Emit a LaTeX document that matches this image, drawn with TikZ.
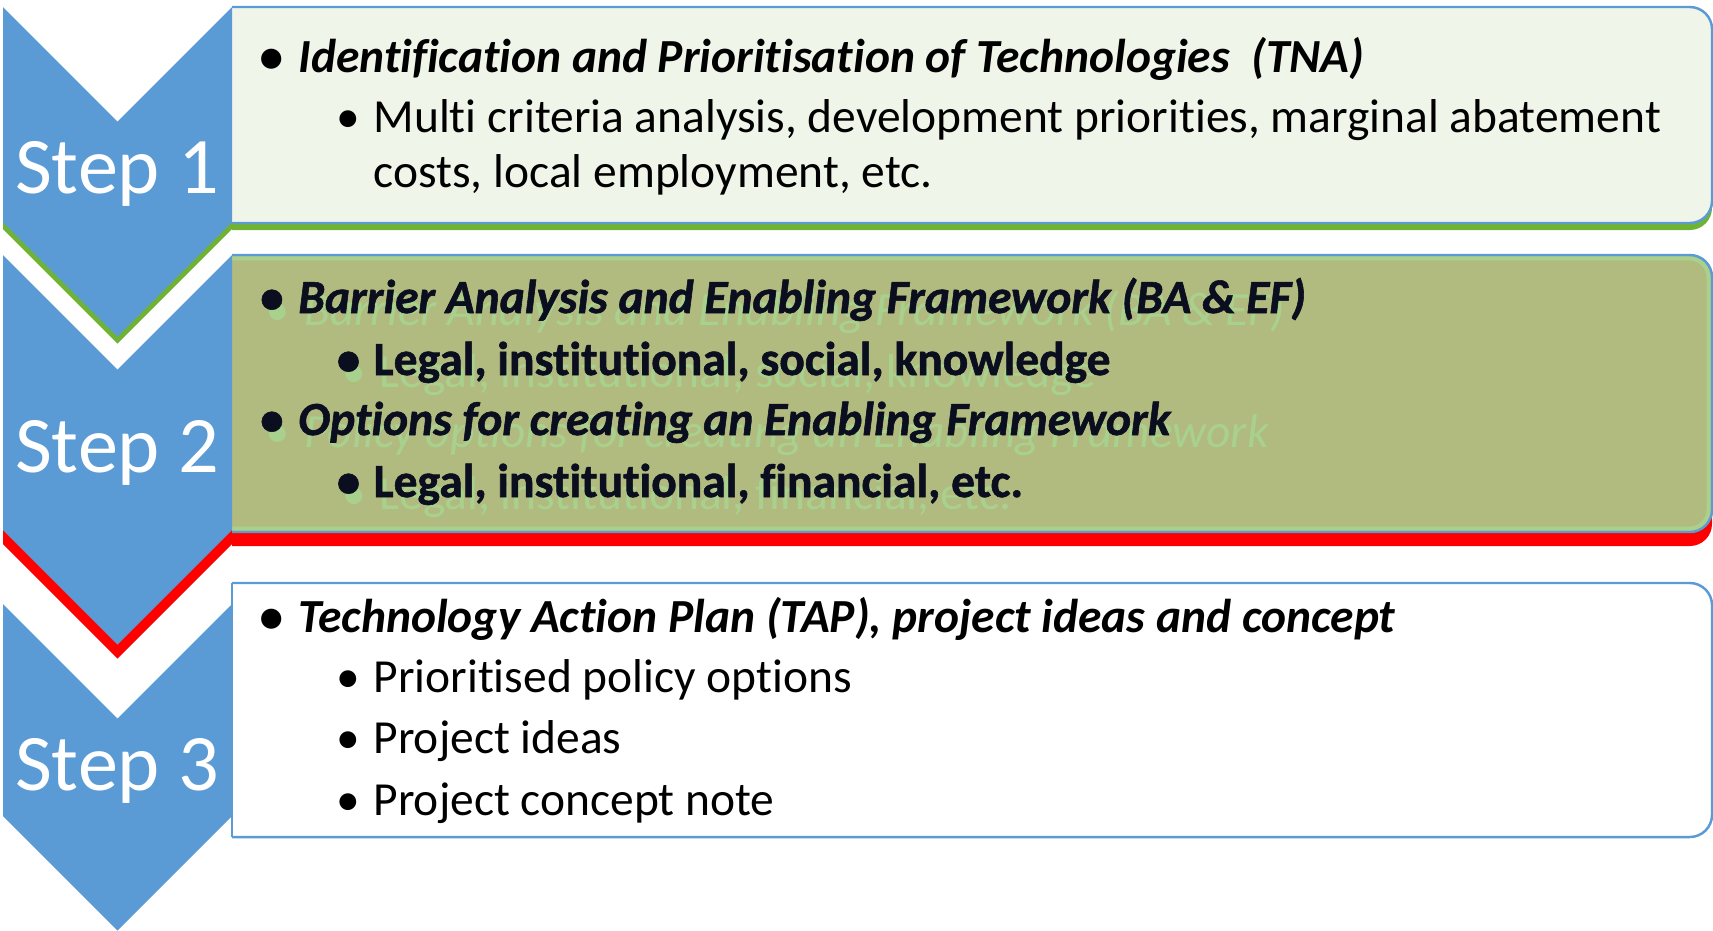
\documentclass[tikz,border=0pt]{standalone}
\usepackage{fontspec}
\setmainfont{Carlito}[Ligatures=NoCommon]
\newfontfamily\glowfont{Carlito}[Ligatures=NoCommon, FakeBold=1.2]
\usepackage{xcolor}
\usepackage{tikz}
\usetikzlibrary{positioning}
\definecolor{stepblue}{RGB}{91,155,213}
\definecolor{paleA}{RGB}{240,245,234}
\definecolor{oliveB}{RGB}{177,187,128}
\definecolor{lightB}{RGB}{169,209,142}
\definecolor{shadeA}{RGB}{112,178,52}
\definecolor{shadeB}{RGB}{255,0,0}
\definecolor{inkB}{RGB}{10,14,30}
\newcommand{\itembullet}[1][11pt]{\makebox[#1][l]{\textbullet}}

\begin{document}
\begin{tikzpicture}[x=0.01cm, y=-0.01cm,
    chevron/.style={fill=stepblue},
    panel/.style={rounded corners=6.3pt, draw=stepblue, line width=0.7pt},
    steplabel/.style={anchor=base, inner sep=0, text=white, font=\fontsize{22.8}{27}\selectfont},
    item/.style={anchor=base west, inner sep=0, font=\fontsize{13.5}{16}\selectfont},
    head/.style={item, font=\fontsize{13.5}{16}\selectfont\bfseries\itshape},
    glowhead/.style={item, text=inkB, font=\fontsize{13.5}{16}\glowfont\bfseries\itshape},
    glowitem/.style={item, text=inkB, font=\fontsize{13.5}{16}\glowfont\bfseries},
    ghostitem/.style={item, text=lightB},
    ghosthead/.style={item, text=lightB, font=\fontsize{13.5}{16}\selectfont\itshape}
]
    \useasboundingbox (0,0) rectangle (1713,930);

    % shadows under the first two chevrons
    \fill[shadeA, shift={(0,7)}] (3,7) -- (117.5,121.5) -- (232,7) -- (232,222) -- (117.5,336.5) -- (3,222) -- cycle;
    \fill[shadeB, shift={(0,14)}] (3,255) -- (117.5,369.5) -- (232,255) -- (232,530) -- (117.5,644.5) -- (3,530) -- cycle;

    % text panels
    \begin{scope}
        \clip (232,0) rectangle (1713,930);
        \fill[shadeA, rounded corners=6.3pt] (180,14) rectangle (1712,230);
        \fill[shadeB, rounded corners=6.3pt] (180,269) rectangle (1712,546);
        \draw[panel, fill=paleA] (180,7) rectangle (1712,223);
        \draw[panel, fill=oliveB] (180,255) rectangle (1712,532);
        \draw[lightB, line width=1.1pt, rounded corners=5.4pt] (180,258.5) rectangle (1708.5,528.5);
        \draw[panel, fill=white] (180,583) rectangle (1712,837);
    \end{scope}
    \draw[stepblue, line width=0.7pt] (232,583) -- (232,837);

    \foreach \t/\b in {7/222, 255/530, 604/816}
        \fill[chevron] (3,\t) -- (117.5,\t+114.5) -- (232,\t) -- (232,\b) -- (117.5,\b+114.5) -- (3,\b) -- cycle;

    \node[steplabel] (s1) at (117,193) {Step 1};
    \node[steplabel] (s2) at (117,472) {Step 2};
    \node[steplabel] (s3) at (117,790) {Step 3};

    \node[head] (t1a) at (259,72) {\itembullet Identification and Prioritisation of Technologies~ (TNA)};
    \node[item] (t1b) at (336,132) {\itembullet[10.5pt]Multi criteria analysis, development priorities, marginal abatement};
    \node[item] (t1c) at (373,187) {costs, local employment, etc.};

    \node[ghosthead] (g2a) at (265,325) {\itembullet Barrier Analysis and Enabling Framework (BA \& EF)};
    \node[ghostitem] (g2b) at (342,387) {\itembullet[10.5pt]Legal, institutional, social, knowledge};
    \node[ghosthead] (g2c) at (265,447) {\itembullet Policy options for creating an Enabling Framework};
    \node[ghostitem] (g2d) at (342,509) {\itembullet[10.5pt]Legal, institutional, financial, etc.};

    \node[glowhead] (t2a) at (259,313) {\itembullet Barrier Analysis and Enabling Framework (BA \& EF)};
    \node[glowitem] (t2b) at (336,375) {\itembullet[10.5pt]Legal, institutional, social, knowledge};
    \node[glowhead] (t2c) at (259,435) {\itembullet Options for creating an Enabling Framework};
    \node[glowitem] (t2d) at (336,497) {\itembullet[10.5pt]Legal, institutional, financial, etc.};

    \node[head] (t3a) at (259,632) {\itembullet Technology Action Plan (TAP), project ideas and concept};
    \node[item] (t3b) at (336,692) {\itembullet[10.5pt]Prioritised policy options};
    \node[item] (t3c) at (336,753) {\itembullet[10.5pt]Project ideas};
    \node[item] (t3d) at (336,815) {\itembullet[10.5pt]Project concept note};
\end{tikzpicture}
\end{document}
